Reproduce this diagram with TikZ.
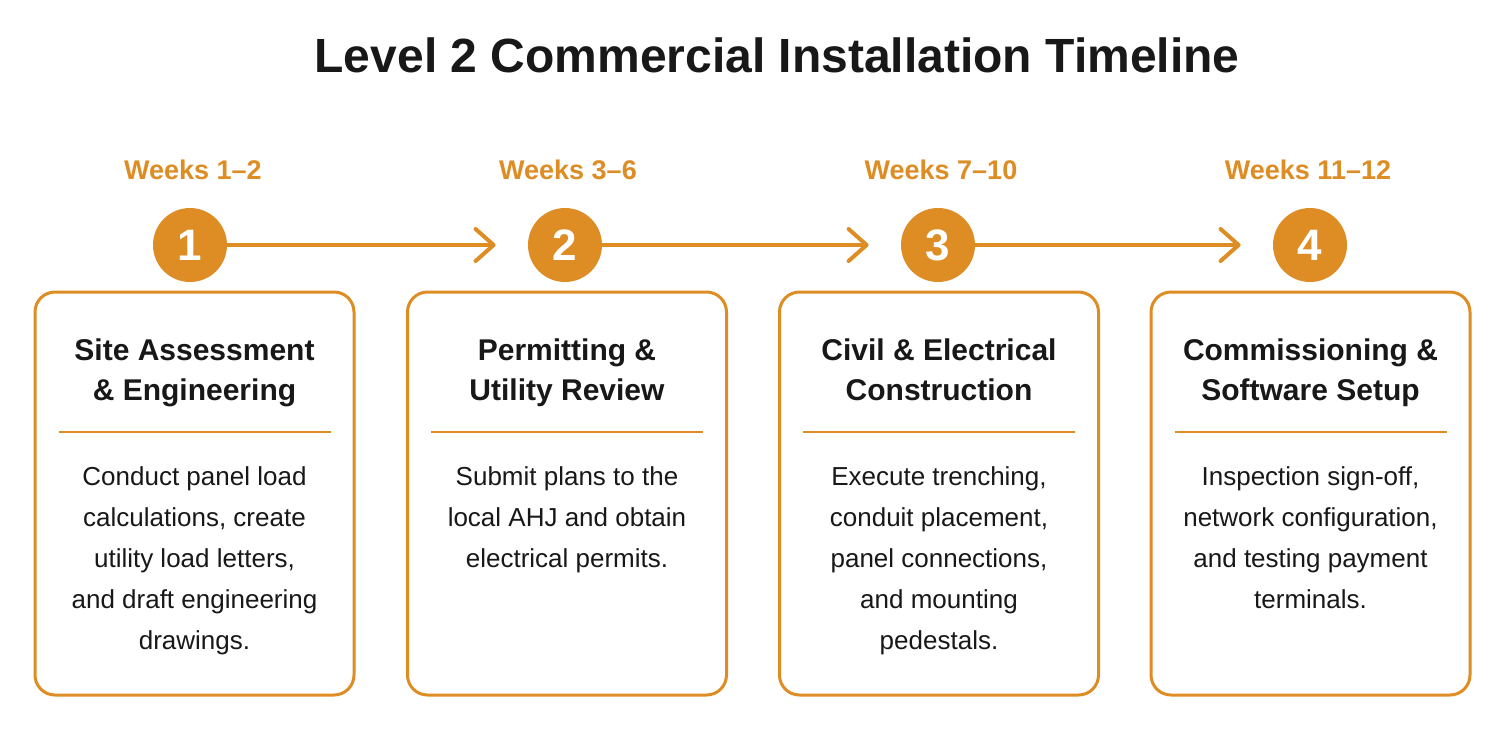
\documentclass[tikz,border=0pt]{standalone}
\usepackage{fontspec}
\setmainfont{Liberation Sans}
\usepackage{xcolor}
\usepackage{tikz}
\usetikzlibrary{arrows.meta,positioning,calc}
\definecolor{amber}{RGB}{221,141,36}
\definecolor{ink}{RGB}{24,24,24}
\tikzstyle{numdot}  =[circle, fill=amber, minimum size=37pt, inner sep=0pt, text=white,
                      font=\fontsize{22}{24}\selectfont\bfseries]
\tikzstyle{weeks}   =[text=amber, font=\fontsize{13.5}{16}\selectfont\bfseries]
\tikzstyle{phasebox}=[rectangle, draw=amber, line width=1.5pt, rounded corners=10pt,
                      fill=white, minimum width=159.5pt, minimum height=201.5pt]
\tikzstyle{heading} =[align=center, text=ink, inner sep=0pt, anchor=north,
                      font=\fontsize{15}{20}\selectfont\bfseries]
\tikzstyle{body}    =[align=center, text=ink, inner sep=0pt, anchor=north,
                      font=\fontsize{13}{20.5}\selectfont]
\tikzstyle{sepline} =[draw=amber, line width=1pt]
\tikzstyle{arr}     =[-{Straight Barb[round,length=9pt,width=16pt]}, line width=2pt,
                      draw=amber, line cap=round, shorten >=16pt]

\begin{document}
\begin{tikzpicture}[x=0.5pt, y=-0.5pt]

  % ── canvas ─────────────────────────────────────────────────────────────────
  \fill[white] (0,0) rectangle (1506,730);
  \useasboundingbox (0,0) rectangle (1506,730);

  \node[text=ink, font=\fontsize{24}{28}\selectfont\bfseries] (title) at (777,55)
    {Level 2 Commercial Installation Timeline};

  % ── phase boxes ────────────────────────────────────────────────────────────
  \node[phasebox] (box1) at (194.5,493.5) {};
  \node[phasebox] (box2) at (567,493.5)   {};
  \node[phasebox] (box3) at (939,493.5)   {};
  \node[phasebox] (box4) at (1310.5,493.5){};

  % ── markers and week labels ────────────────────────────────────────────────
  \node[numdot] (c1) at (190,245)  {1};
  \node[numdot] (c2) at (565,245)  {2};
  \node[numdot] (c3) at (938,245)  {3};
  \node[numdot] (c4) at (1310,245) {4};

  \node[weeks] (wk1) at (193,170)  {Weeks 1--2};
  \node[weeks] (wk2) at (568,170)  {Weeks 3--6};
  \node[weeks] (wk3) at (941,170)  {Weeks 7--10};
  \node[weeks] (wk4) at (1308,170) {Weeks 11--12};

  % ── timeline ───────────────────────────────────────────────────────────────
  \draw[arr] (c1) -- (c2);
  \draw[arr] (c2) -- (c3);
  \draw[arr] (c3) -- (c4);

  % ── headings ───────────────────────────────────────────────────────────────
  \node[heading] (h1) at ($(box1.north)+(0,48)$) {Site Assessment\\\& Engineering};
  \node[heading] (h2) at ($(box2.north)+(0,48)$) {Permitting \&\\Utility Review};
  \node[heading] (h3) at ($(box3.north)+(0,48)$) {Civil \& Electrical\\Construction};
  \node[heading] (h4) at ($(box4.north)+(0,48)$) {Commissioning \&\\Software Setup};

  \draw[sepline] ($(box1.north west)+(25,141)$) -- ($(box1.north east)+(-25,141)$);
  \draw[sepline] ($(box2.north west)+(25,141)$) -- ($(box2.north east)+(-25,141)$);
  \draw[sepline] ($(box3.north west)+(25,141)$) -- ($(box3.north east)+(-25,141)$);
  \draw[sepline] ($(box4.north west)+(25,141)$) -- ($(box4.north east)+(-25,141)$);

  % ── descriptions ───────────────────────────────────────────────────────────
  \node[body] (d1) at ($(box1.north)+(0,176)$)
    {Conduct panel load\\calculations, create\\utility load letters,\\and draft engineering\\drawings.};
  \node[body] (d2) at ($(box2.north)+(0,176)$)
    {Submit plans to the\\local AHJ and obtain\\electrical permits.};
  \node[body] (d3) at ($(box3.north)+(0,176)$)
    {Execute trenching,\\conduit placement,\\panel connections,\\and mounting\\pedestals.};
  \node[body] (d4) at ($(box4.north)+(0,176)$)
    {Inspection sign-off,\\network configuration,\\and testing payment\\terminals.};

\end{tikzpicture}
\end{document}
